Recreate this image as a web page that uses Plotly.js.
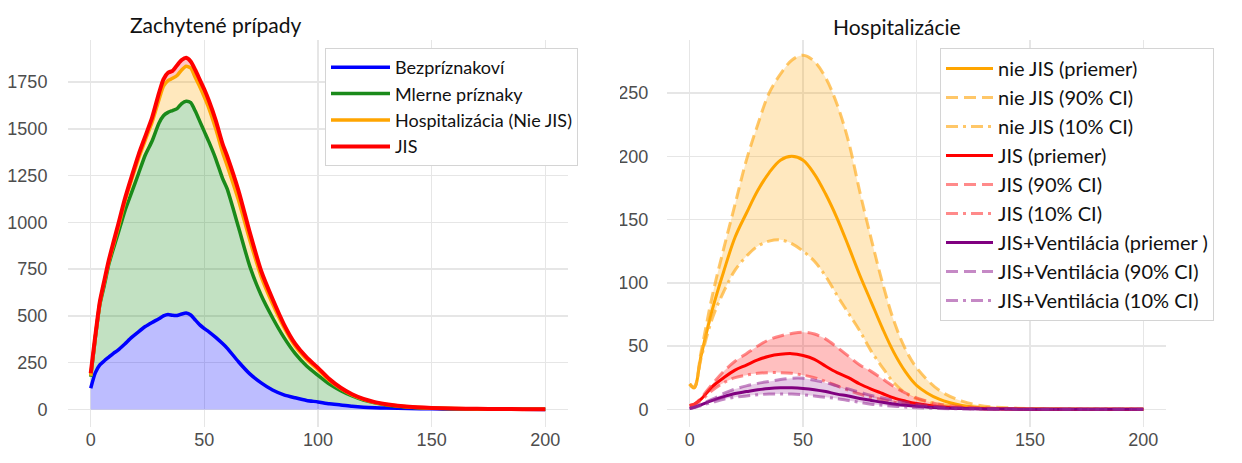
<!DOCTYPE html>
<html>
<head>
<meta charset="utf-8">
<script src="https://cdn.plot.ly/plotly-3.0.1.min.js"></script>
<style>html,body{margin:0;padding:0;background:#fff;}#chart{width:1242px;height:463px;}</style>
</head>
<body>
<div id="chart"></div>
<script>
// ---------- Left panel: detected cases (stacked cumulative tops) ----------
const daysL = [0,2,4,6,8,10,12,15,18,21,24,27,30,32,34,36,38,40,42,44,46,48,50,52,55,58,60,65,70,75,80,85,90,95,100,105,110,115,120,125,130,140,150,160,170,180,190,200];
const asymptomatic = [113,195,238,260,280,300,317,350,385,415,443,465,485,500,508,503,502,510,515,505,478,452,432,415,385,352,328,255,190,142,104,78,62,48,40,30,24,17,12,9,7,4.5,3,2,1.2,0.7,0.4,0.2];
const mildTop = [175,380,560,665,778,860,939,1060,1160,1260,1360,1435,1530,1570,1588,1598,1608,1635,1648,1640,1595,1540,1485,1430,1340,1235,1180,975,765,610,490,385,298,232,182,135,100,72,50,35,24,12,7,4,2.5,1.5,1,0.5];
const hospTop = [180,385,568,680,790,880,968,1110,1230,1340,1440,1535,1655,1728,1758,1770,1785,1815,1835,1825,1775,1725,1670,1610,1500,1375,1305,1120,905,710,565,440,338,268,212,155,112,78,54,37,26,13,7.5,4.5,2.8,1.8,1.2,0.8];
const icuTop = [193,392,575,690,800,893,985,1125,1245,1360,1460,1560,1690,1765,1800,1810,1840,1868,1880,1860,1815,1762,1710,1650,1545,1420,1355,1170,945,740,590,455,350,278,222,162,116,81,56,39,28,14,8,5,3,2,1.5,1];
const leftNames = ['Bezpríznakoví','Mlerne príznaky','Hospitalizácia (Nie JIS)','JIS'];

// ---------- Right panel: hospitalisations ----------
const daysR = [0,2,5,10,15,20,25,30,35,40,45,50,55,60,65,70,75,80,85,90,95,100,110,120,130,140,150,160,170,180,190,200];
const nonIcuMean = [20,17,42,79,109,136,155,173,187,197,200,197,186,170,151,129,106,85,64,45,30,19,8,3,1.3,0.6,0.3,0.15,0.08,0.05,0.03,0.02];
const nonIcuHi = [20,18,45,90,127,162,197,225,250,265,276,280,275,262,241,212,172,135,100,70,48,33,15,6.5,2.5,1.2,0.6,0.3,0.15,0.08,0.05,0.03];
const nonIcuLo = [20,17,40,72,93,110,121,129,133,134,131,125,117,105,90,76,62,46,33,21,13,8.5,4,1.8,0.8,0.4,0.2,0.1,0.05,0.03,0.02,0.01];
const icuMean = [3,4,8,18,25,31,35,39,42,43.5,44,42.5,39.5,34,29,25,20,16,12.5,9,6.5,4.5,2,1,0.5,0.2,0.1,0.05,0.03,0.02,0.01,0.01];
const icuHi = [3,4,9,20,30,38,44,50,55,58,60,61,59.5,55.5,49,42,35,30,24,18,13,9,4,2,1,0.5,0.25,0.1,0.05,0.03,0.02,0.01];
const icuLo = [3,4,7,15,21,25,27,28.5,29,29,28.5,27,25,22,18.5,15,12,9.5,7.5,5.5,4,3,1.5,0.7,0.3,0.15,0.07,0.03,0.02,0.01,0.01,0.01];
const ventMean = [0.7,1.5,3.5,7,10,12.5,14,15.5,16.5,17,17,16.5,15.5,14,12,10.5,8.5,7,5.5,4.2,3.2,2.4,1.2,0.6,0.3,0.15,0.07,0.03,0.02,0.01,0.01,0.01];
const ventHi = [0.7,1.6,4,8,12.5,16,18.5,20.5,22,23.5,24.5,24.5,23,21,18.5,16,13.5,11,9,7,5.5,4,2,1,0.5,0.25,0.1,0.05,0.03,0.02,0.01,0.01];
const ventLo = [0.7,1.3,3,5.5,8,9.5,10.5,11.5,12,12,12,11.5,10.5,9.5,8.5,7,5.5,4,3.2,2.5,1.8,1.3,0.6,0.3,0.15,0.07,0.03,0.02,0.01,0.01,0.01,0.01];
const groupNames = ['nie JIS','JIS','JIS+Ventilácia'];
const meanLabels = ['nie JIS (priemer)','JIS (priemer)','JIS+Ventilácia (priemer )'];

const rightGroups = [
  {mean:nonIcuMean, hi:nonIcuHi, lo:nonIcuLo, color:'#ffa500', ci:'rgba(255,175,40,0.7)', fill:'rgba(255,165,0,0.25)'},
  {mean:icuMean, hi:icuHi, lo:icuLo, color:'#ff0000', ci:'rgba(255,60,60,0.6)', fill:'rgba(255,0,0,0.25)'},
  {mean:ventMean, hi:ventHi, lo:ventLo, color:'#800080', ci:'rgba(150,40,150,0.55)', fill:'rgba(128,0,128,0.2)'}
];

const traces = [];
const leftSeries = [asymptomatic, mildTop, hospTop, icuTop];
const leftLine = ['#0000ff','#1a8a1a','#ffa500','#ff0000'];
const leftFill = ['rgba(0,0,255,0.26)','rgba(0,128,0,0.24)','rgba(255,165,0,0.26)','rgba(255,0,0,0.22)'];
const splL = {shape:'spline', smoothing:0.6};
const splR = {shape:'spline', smoothing:1};
// stacked fills (no legend)
leftSeries.forEach((s,i)=>{
  traces.push({x:daysL, y:s, type:'scatter', mode:'lines', showlegend:false, hoverinfo:'skip',
    xaxis:'x', yaxis:'y', fill: i===0 ? 'tozeroy' : 'tonexty', fillcolor:leftFill[i],
    line:Object.assign({width:0, color:'rgba(0,0,0,0)'}, splL)});
});
// lines (legend)
leftSeries.forEach((s,i)=>{
  traces.push({x:daysL, y:s, type:'scatter', mode:'lines', name:leftNames[i],
    xaxis:'x', yaxis:'y', legend:'legend',
    line:Object.assign({color:leftLine[i], width: i===3 ? 4 : 3.5}, splL)});
});

rightGroups.forEach((g,gi)=>{
  traces.push({x:daysR, y:g.lo, type:'scatter', mode:'lines', showlegend:false, hoverinfo:'skip',
    xaxis:'x2', yaxis:'y2', line:Object.assign({width:0, color:'rgba(0,0,0,0)'}, splR)});
  traces.push({x:daysR, y:g.hi, type:'scatter', mode:'lines', showlegend:false, hoverinfo:'skip',
    xaxis:'x2', yaxis:'y2', fill:'tonexty', fillcolor:g.fill, line:Object.assign({width:0, color:'rgba(0,0,0,0)'}, splR)});
  traces.push({x:daysR, y:g.mean, type:'scatter', mode:'lines', name:meanLabels[gi],
    xaxis:'x2', yaxis:'y2', legend:'legend2',
    line:Object.assign({color:g.color, width:3}, splR)});
  traces.push({x:daysR, y:g.hi, type:'scatter', mode:'lines', name:groupNames[gi]+' (90% CI)',
    xaxis:'x2', yaxis:'y2', legend:'legend2',
    line:Object.assign({color:g.ci, width:3, dash:'12px,6px'}, splR)});
  traces.push({x:daysR, y:g.lo, type:'scatter', mode:'lines', name:groupNames[gi]+' (10% CI)',
    xaxis:'x2', yaxis:'y2', legend:'legend2',
    line:Object.assign({color:g.ci, width:3, dash:'12px,5px,3px,5px'}, splR)});
});

const tickFont = {family:'Liberation Sans, Arial, sans-serif', size:18, color:'#4d4d4d'};
const axBase = {showline:false, zeroline:false, gridcolor:'#e6e6e6', gridwidth:1.5, tickfont:tickFont, fixedrange:true};
const H = 463, W = 1242;
const yDom = [(H-427)/H, (H-40)/H];

const layout = {
  width:W, height:H, margin:{l:0,r:0,t:0,b:0},
  paper_bgcolor:'#ffffff', plot_bgcolor:'#ffffff',
  showlegend:true,
  xaxis: Object.assign({}, axBase, {domain:[68/W, 568/W], range:[-10,210], tickvals:[0,50,100,150,200], ticks:'', anchor:'y'}),
  yaxis: Object.assign({}, axBase, {domain:yDom, range:[-94,1975], tickvals:[0,250,500,750,1000,1250,1500,1750],
    ticks:'outside', ticklen:16, tickcolor:'rgba(0,0,0,0)', anchor:'x'}),
  xaxis2: Object.assign({}, axBase, {domain:[667/W, 1166/W], range:[-10,210], tickvals:[0,50,100,150,200], ticks:'', anchor:'y2'}),
  yaxis2: Object.assign({}, axBase, {domain:yDom, range:[-14,292], tickvals:[0,50,100,150,200,250],
    ticks:'outside', ticklen:14, tickcolor:'rgba(0,0,0,0)', anchor:'x2'}),
  legend: {x:325/W, y:1-48/H, xanchor:'left', yanchor:'top', bgcolor:'#ffffff', bordercolor:'#d4d4d4', borderwidth:1,
    traceorder:'normal', font:{family:'Lato, sans-serif', size:18, color:'#111111'}, tracegroupgap:0, itemwidth:59},
  legend2: {x:940/W, y:1-48/H, xanchor:'left', yanchor:'top', bgcolor:'#ffffff', bordercolor:'#d4d4d4', borderwidth:1,
    traceorder:'normal', font:{family:'Lato, sans-serif', size:20, color:'#111111'}, tracegroupgap:0, itemwidth:47},
  annotations: [
    {text:'Zachytené prípady', xref:'paper', yref:'paper', x:215/W, y:1-25/H, xanchor:'center', yanchor:'middle', showarrow:false,
      font:{family:'Lato, sans-serif', size:21, color:'#111111'}},
    {text:'Hospitalizácie', xref:'paper', yref:'paper', x:897/W, y:1-26/H, xanchor:'center', yanchor:'middle', showarrow:false,
      font:{family:'Lato, sans-serif', size:21, color:'#111111'}}
  ],
  shapes: [
    {type:'rect', xref:'paper', yref:'paper', x0:603/W, x1:620/W, y0:0, y1:0.9, fillcolor:'#ffffff', line:{width:0}, layer:'above'}
  ]
};

Plotly.newPlot('chart', traces, layout, {displayModeBar:false, staticPlot:true});
</script>
</body>
</html>
